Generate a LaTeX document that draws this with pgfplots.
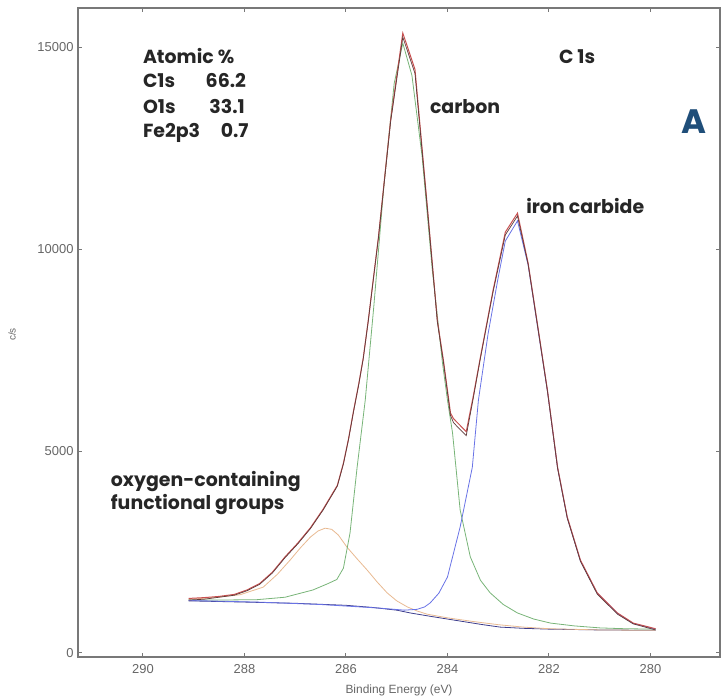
\documentclass[border=0pt]{standalone}
\usepackage{pgfplots}
\pgfplotsset{compat=1.18}
\usepackage{fontspec}
\setmainfont{Liberation Sans}
\newfontfamily\annot{Poppins}
\usetikzlibrary{calc}

\definecolor{envred}{RGB}{200,80,80}
\definecolor{datadark}{RGB}{95,60,60}
\definecolor{cgreen}{RGB}{120,180,120}
\definecolor{corange}{RGB}{232,185,145}
\definecolor{cblue}{RGB}{105,115,230}
\definecolor{cbase}{RGB}{60,60,140}
\definecolor{labelA}{RGB}{31,78,121}
\definecolor{axgray}{RGB}{120,120,120}

\begin{document}
\begin{tikzpicture}
\begin{axis}[
  name=ax,
  scale only axis,
  width=642bp, height=649bp,
  x dir=reverse,
  xmin=278.63, xmax=291.28,
  ymin=-100, ymax=15970,
  xtick={280,282,...,290},
  ytick={0,5000,10000,15000},
  scaled ticks=false,
  /pgf/number format/set thousands separator={},
  /pgf/number format/assume math mode=true,
  tick align=inside,
  major tick length=4bp,
  axis line style={axgray, line width=1.6bp},
  tick style={axgray, line width=1bp},
  tick label style={font=\fontsize{13}{14}\selectfont, text=black!60},
  xticklabel style={yshift=-4bp},
  yticklabel style={xshift=-1bp},
  clip=false,
]
% Shirley background
\addplot[cbase, line width=0.8bp] coordinates {
(289.10,1290)(288.00,1260)(287.00,1230)(286.00,1180)(285.50,1130)(285.00,1060)
(284.73,990)(284.30,900)(283.80,800)(283.30,700)(282.96,640)(282.50,610)
(282.00,590)(281.00,570)(279.90,560)};
% oxygen-containing component
\addplot[corange, line width=0.8bp] coordinates {
(289.10,1330)(288.60,1370)(288.09,1440)(287.63,1630)(287.35,1950)(287.10,2300)
(286.90,2600)(286.70,2870)(286.55,3020)(286.41,3090)(286.28,3060)(286.15,2920)
(285.98,2620)(285.78,2330)(285.58,2050)(285.38,1750)(285.19,1490)(285.00,1290)
(284.79,1140)(284.60,1040)(284.40,960)(284.00,870)(283.50,780)(283.00,700)
(282.50,640)(282.00,600)(281.00,570)(279.90,560)};
% carbon component
\addplot[cgreen, line width=0.8bp] coordinates {
(289.10,1310)(288.50,1310)(287.75,1320)(287.20,1380)(286.65,1560)(286.35,1720)
(286.18,1820)(286.05,2100)(285.92,2970)(285.78,4600)(285.62,6260)(285.45,8600)(285.25,11600)
(285.05,14100)(284.88,15100)(284.70,14300)(284.50,12300)(284.30,9500)(284.10,7200)
(284.00,6260)(283.90,5450)(283.75,3540)(283.55,2380)(283.35,1800)(283.16,1490)
(282.90,1200)(282.62,990)(282.30,840)(281.97,740)(281.50,670)(280.99,620)
(280.50,600)(279.90,590)};
% iron carbide component
\addplot[cblue, line width=0.8bp] coordinates {
(289.10,1300)(287.75,1260)(286.50,1200)(285.33,1110)(284.85,1060)(284.60,1080)
(284.45,1140)(284.34,1240)(284.17,1480)(284.00,1880)(283.75,3120)(283.51,4600)
(283.39,6260)(283.20,7900)(283.00,9300)(282.86,10200)(282.62,10700)(282.41,9600)
(282.23,8120)(282.03,6480)(281.83,4580)(281.64,3350)(281.38,2280)(281.05,1480)
(280.65,980)(280.34,730)(279.90,590)};
% envelope (fit)
\addplot[envred, line width=1bp] coordinates {
(289.10,1350)(288.80,1370)(288.50,1400)(288.20,1450)(287.95,1560)(287.70,1720)
(287.45,2000)(287.20,2380)(286.95,2720)(286.70,3100)(286.45,3560)(286.17,4150)
(286.05,4700)(285.95,5300)(285.85,6000)(285.75,6650)(285.66,7300)(285.56,8240)(285.36,10300)
(285.12,13200)(284.88,15350)(284.64,14450)(284.40,11100)(284.20,8240)(284.08,7250)
(283.94,5940)(283.88,5800)(283.63,5480)(283.50,6300)(283.35,7330)(283.10,8990)
(282.86,10420)(282.62,10890)(282.41,9650)(282.23,8170)(282.03,6510)(281.83,4600)
(281.64,3370)(281.38,2300)(281.05,1490)(280.65,990)(280.34,740)(279.90,600)};
% measured data
\addplot[datadark, line width=0.7bp] coordinates {
(289.10,1310)(288.80,1330)(288.50,1380)(288.20,1430)(287.95,1540)(287.70,1700)
(287.45,1980)(287.20,2360)(286.95,2700)(286.70,3080)(286.45,3540)(286.17,4130)
(286.05,4680)(285.95,5280)(285.85,5980)(285.75,6630)(285.66,7280)(285.56,8220)(285.36,10280)
(285.12,13150)(284.88,15250)(284.64,14350)(284.40,11050)(284.20,8200)(284.08,7200)
(283.94,5880)(283.88,5700)(283.63,5380)(283.50,6250)(283.35,7300)(283.10,8950)
(282.86,10350)(282.62,10820)(282.41,9620)(282.23,8140)(282.03,6480)(281.83,4570)
(281.64,3340)(281.38,2270)(281.05,1460)(280.65,960)(280.34,720)(279.90,570)};

% annotations
\begin{scope}[every node/.style={font=\annot\bfseries\fontsize{19}{21}\selectfont, text=black!85, inner sep=0pt}]
\node[anchor=base west] at (rel axis cs:0.101,0.915) {Atomic \%};
\node[anchor=base west] at (rel axis cs:0.101,0.877) {C1s};
\node[anchor=base east] at (rel axis cs:0.262,0.877) {66.2};
\node[anchor=base west] at (rel axis cs:0.101,0.838) {O1s};
\node[anchor=base east] at (rel axis cs:0.260,0.838) {33.1};
\node[anchor=base west] at (rel axis cs:0.101,0.801) {Fe2p3};
\node[anchor=base east] at (rel axis cs:0.266,0.801) {0.7};
\node[anchor=base west] at (rel axis cs:0.749,0.915) {C 1s};
\node[anchor=base west] at (rel axis cs:0.548,0.837) {carbon};
\node[anchor=base west] at (rel axis cs:0.698,0.684) {iron carbide};
\node[anchor=base west] at (rel axis cs:0.051,0.263) {oxygen-containing};
\node[anchor=base west] at (rel axis cs:0.051,0.2265) {functional groups};
\node[anchor=base west, font=\annot\bfseries\fontsize{34}{36}\selectfont, text=labelA] at (rel axis cs:0.940,0.807) {A};
\end{scope}
\end{axis}
% axis labels
\node[font=\fontsize{12}{13}\selectfont, text=black!60, inner sep=0pt] at ($(ax.south)+(0,-33bp)$) {Binding Energy (eV)};
\node[rotate=90, font=\fontsize{10}{12}\selectfont, text=black!60, inner sep=0pt] at ($(ax.west)+(-66bp,-2bp)$) {c/s};
\pgfresetboundingbox
\path[use as bounding box] ($(ax.south west)+(-78bp,-41bp)$) rectangle ($(ax.north east)+(1bp,8bp)$);
\end{tikzpicture}
\end{document}
